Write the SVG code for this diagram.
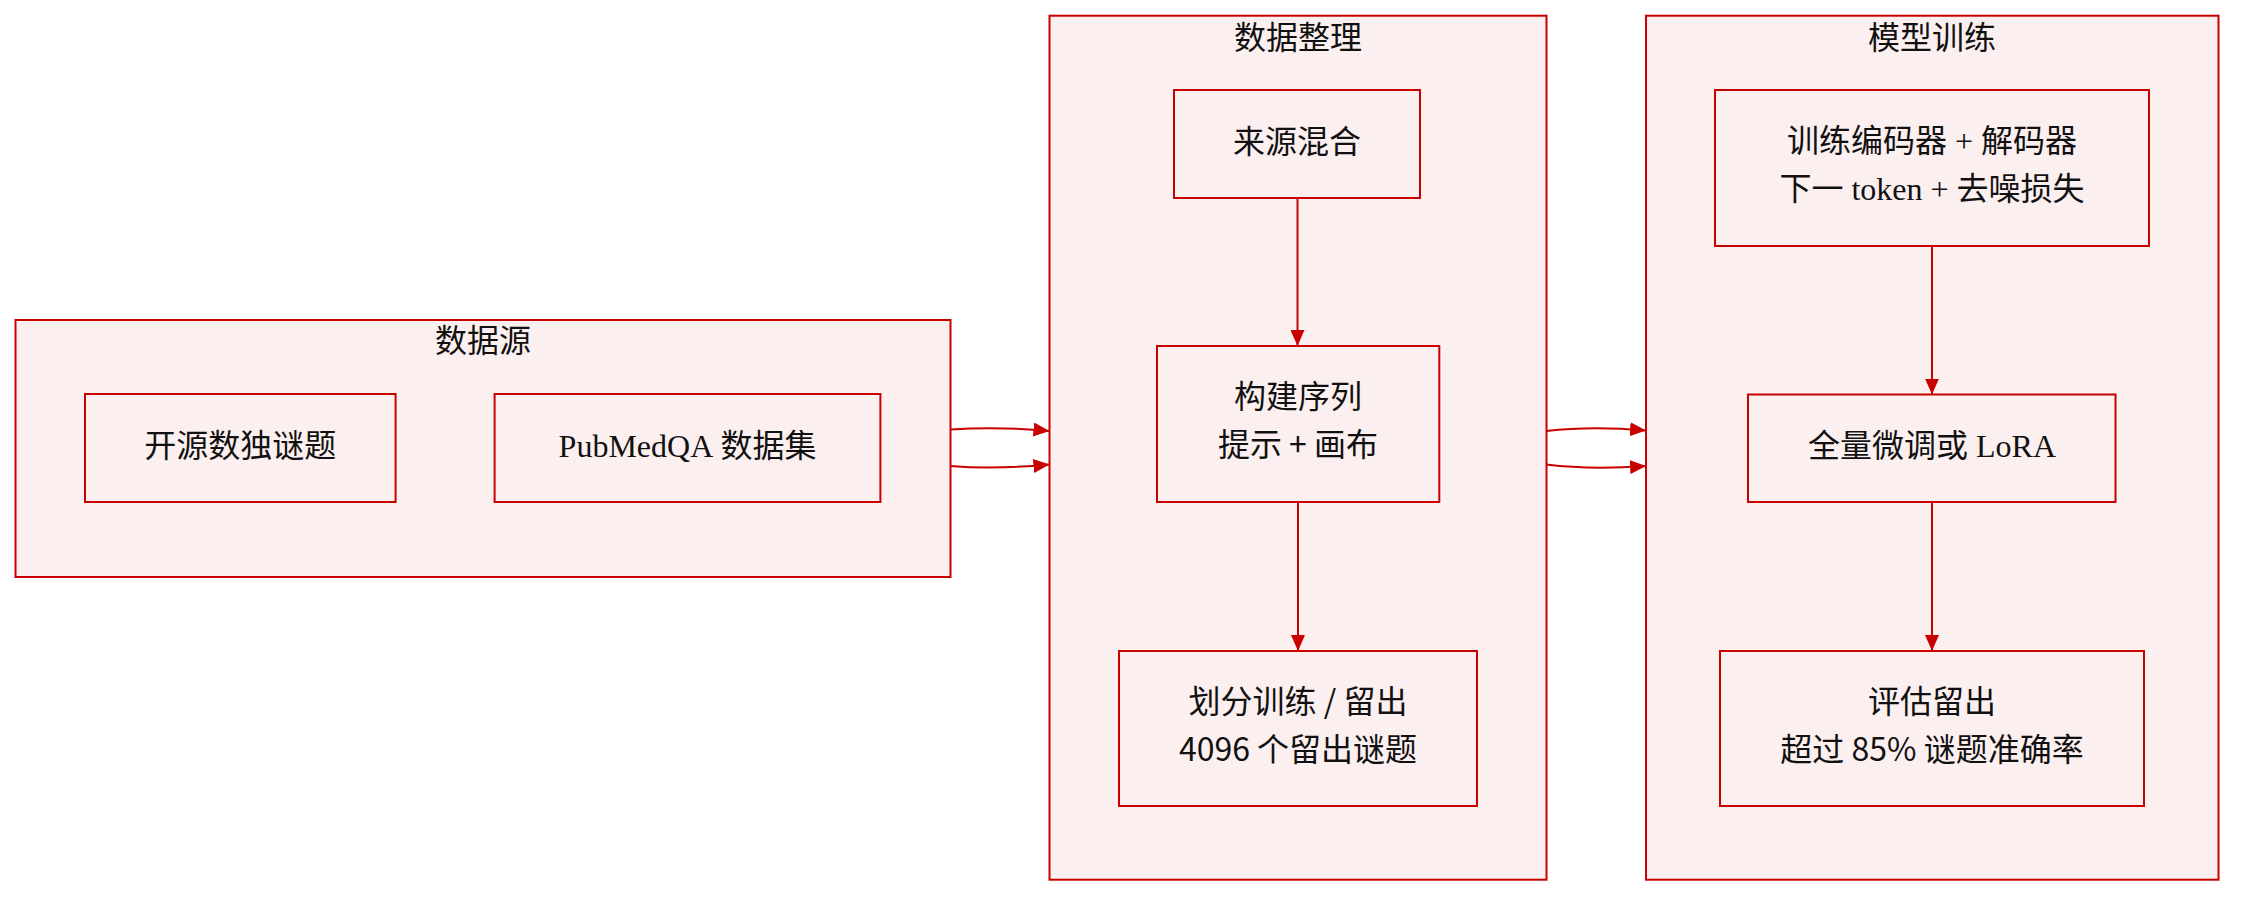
<svg xmlns="http://www.w3.org/2000/svg" width="2250" height="902" viewBox="0 0 2250 902">
<style>
.cl{fill:#fcefef;stroke:#c80000;stroke-width:2}
.nd{fill:#fcefef;stroke:#c80000;stroke-width:2}
.t{font-family:"Noto Sans CJK SC","Liberation Sans",sans-serif;font-size:32px;fill:#111;text-anchor:middle}
.s{font-family:"Liberation Serif","Noto Sans CJK SC",serif}
.e{fill:none;stroke:#c80000;stroke-width:2}
</style>
<defs>
<marker id="ah" markerUnits="userSpaceOnUse" markerWidth="16" markerHeight="14" refX="16" refY="7" orient="auto">
<path d="M0,0 L16,7 L0,14 z" fill="#c80000"/>
</marker>
</defs>
<g id="cluster-sources">
<rect class="cl" x="15.5" y="320" width="935" height="257"/>
<text class="t" x="483" y="352">数据源</text>
</g>
<g id="cluster-prep">
<rect class="cl" x="1049.5" y="15.7" width="497" height="864"/>
<text class="t" x="1298" y="49">数据整理</text>
</g>
<g id="cluster-train">
<rect class="cl" x="1646" y="15.7" width="572.5" height="864"/>
<text class="t" x="1932" y="49">模型训练</text>
</g>
<g id="node-sudoku">
<rect class="nd" x="85" y="394" width="310.6" height="108"/>
<text class="t" x="240.3" y="457">开源数独谜题</text>
</g>
<g id="node-pubmedqa">
<rect class="nd" x="494.6" y="394" width="385.8" height="108"/>
<text class="t" x="687.5" y="457"><tspan class="s">PubMedQA</tspan> 数据集</text>
</g>
<g id="node-mix">
<rect class="nd" x="1174" y="90" width="246" height="108"/>
<text class="t" x="1297" y="153">来源混合</text>
</g>
<g id="node-build">
<rect class="nd" x="1157" y="346" width="282.3" height="156"/>
<text class="t" x="1298" y="408">构建序列</text>
<text class="t" x="1298" y="456">提示 + 画布</text>
</g>
<g id="node-split">
<rect class="nd" x="1119" y="651" width="358" height="155"/>
<text class="t" x="1298" y="712.5">划分训练 / 留出</text>
<text class="t" x="1298" y="760.5">4096 个留出谜题</text>
</g>
<g id="node-encdec">
<rect class="nd" x="1715" y="90" width="434" height="156"/>
<text class="t" x="1932" y="152">训练编码器<tspan class="s"> + </tspan>解码器</text>
<text class="t" x="1932" y="200">下一<tspan class="s"> token + </tspan>去噪损失</text>
</g>
<g id="node-finetune">
<rect class="nd" x="1748" y="394.5" width="367.5" height="107.5"/>
<text class="t" x="1932" y="457">全量微调或<tspan class="s"> LoRA</tspan></text>
</g>
<g id="node-eval">
<rect class="nd" x="1720" y="651" width="424" height="155"/>
<text class="t" x="1932" y="712.5">评估留出</text>
<text class="t" x="1932" y="760.5">超过 85% 谜题准确率</text>
</g>
<g id="connectors">
<path class="e" marker-end="url(#ah)" d="M950.5,429.5 C980,427.5 1012,427.5 1049.5,431"/>
<path class="e" marker-end="url(#ah)" d="M950.5,466 C980,468.5 1012,468 1049.5,464.5"/>
<path class="e" marker-end="url(#ah)" d="M1546.5,431 C1578,427.5 1610,427.5 1646,430.5"/>
<path class="e" marker-end="url(#ah)" d="M1546.5,464.5 C1578,468.5 1610,468.5 1646,466"/>
<path class="e" marker-end="url(#ah)" d="M1297.5,198 L1297.5,346"/>
<path class="e" marker-end="url(#ah)" d="M1298,502 L1298,651"/>
<path class="e" marker-end="url(#ah)" d="M1932,246 L1932,394.5"/>
<path class="e" marker-end="url(#ah)" d="M1932,502 L1932,651"/>
</g>
</svg>
